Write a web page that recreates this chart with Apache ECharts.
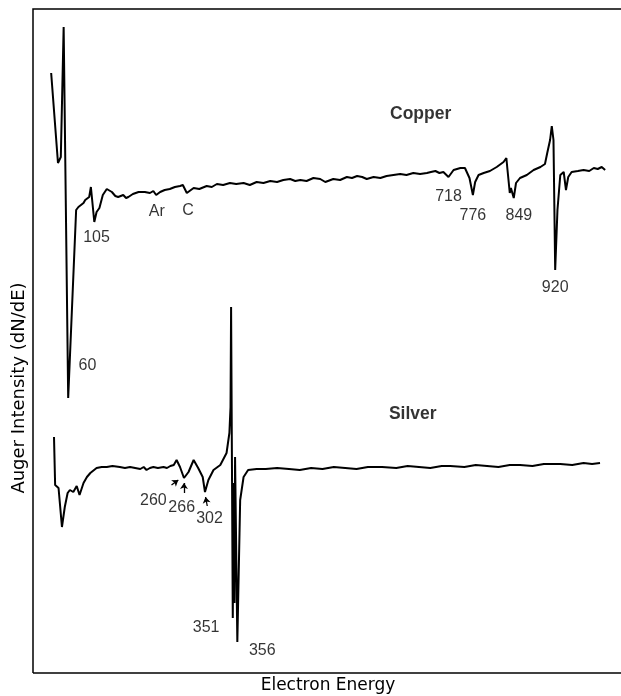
<!DOCTYPE html>
<html>
<head>
<meta charset="utf-8">
<script src="https://cdn.jsdelivr.net/npm/echarts@6/dist/echarts.min.js"></script>
<style>
html,body{margin:0;padding:0;background:#fff;overflow:hidden;}
#chart{width:621px;height:696px;}
</style>
</head>
<body>
<div id="chart"></div>
<script>
// Copper spectrum: electron energy (eV) and dN/dE (arbitrary units)
const copperEnergy = [32,44,49,54,62,76,80,89,92,99,102,108,112,117,123,130,139,145,150,159,164,168,176,186,197,206,212,217,224,232,241,250,259,264,271,283,293,306,315,324,335,347,358,371,382,394,406,418,430,441,453,462,471,482,494,506,515,529,541,553,562,571,580,588,600,612,623,635,647,658,670,682,694,701,709,716,723,732,741,753,761,764,769,775,779,785,794,805,817,829,834,836,840,842,847,851,858,870,882,894,902,906,911,914,917,920,924,929,935,939,943,949,960,970,980,988,995,1002,1008];
const copperSignal = [600,510,516,646,275,463,466,470,473,476,486,451,461,465,478,484,481,477,476,478,475,476,479,481,481,480,482,478,481,483,484,486,487,488,480,485,484,487,486,489,488,490,489,490,488,491,490,492,491,493,494,492,493,492,495,494,491,494,493,496,495,497,496,494,496,495,497,498,499,498,500,499,500,501,502,500,501,496,503,505,505,503,495,478,491,498,500,502,506,511,515,503,480,485,475,490,495,498,503,506,509,520,533,547,533,403,463,498,501,483,496,501,502,503,502,505,504,506,503];

// Silver spectrum
const silverEnergy = [37,39,45,51,56,61,65,71,77,82,89,95,101,112,121,130,140,153,162,171,180,189,195,200,206,212,220,230,236,242,248,253,259,266,274,283,291,299,303,309,318,330,341,346,348,349,352,353.5,355,356,360,365,371,379,394,410,430,451,470,490,510,530,550,570,590,615,640,660,680,700,720,735,760,780,800,820,840,858,880,900,929,950,970,985,999];
const silverSignal = [236,188,185,146,166,180,183,181,187,178,190,196,200,205,206,206,207,206,205,206,205,204,206,203,205,206,205,206,205,207,208,213,206,195,201,213,205,196,181,193,203,208,220,240,266,366,55,190,70,216,31,173,196,203,204,204,205,204,203,205,204,206,205,204,206,206,205,207,206,205,207,207,206,208,207,206,208,208,207,209,209,208,210,209,210];

// Annotation labels (text, energy, signal)
const noteText = ["Copper","Silver","60","105","Ar","C","718","776","849","920","260","266","302","351","356"];
const noteEnergy = [683,669,96,112,218,273,732,775,856,920,212,262,311,305,404];
const noteSignal = [559,259,307,435,461,462,476,457,457,385,172,165,154,45,22];
const noteBold = ["Copper","Silver"];

// Arrows for silver features [fromE, fromV, toE, toV]
const arrowFromE = [244,266,307];
const arrowFromV = [188,180,167];
const arrowToE = [256,266,304];
const arrowToV = [193,190,176];

const copperData = copperEnergy.map((e,i)=>[e, copperSignal[i]]);
const silverData = silverEnergy.map((e,i)=>[e, silverSignal[i]]);
const noteData = noteText.map((t,i)=>({
  value:[noteEnergy[i], noteSignal[i]],
  label:{formatter:t, fontWeight: noteBold.includes(t)?'bold':'normal', fontSize: noteBold.includes(t)?17.5:16}
}));
const arrowData = arrowFromE.map((e,i)=>[{coord:[e, arrowFromV[i]]},{coord:[arrowToE[i], arrowToV[i]]}]);

const FONT = '"Liberation Sans", Arial, sans-serif';
const chart = echarts.init(document.getElementById('chart'), null, {renderer:'canvas'});
chart.setOption({
  animation:false,
  backgroundColor:'#fff',
  grid:{left:33, top:9, right:-4, bottom:23, containLabel:false, outerBoundsMode:'none'},
  xAxis:[{
    type:'value', min:0, max:1043, position:'bottom',
    axisLine:{show:false}, axisTick:{show:false}, axisLabel:{show:false}, splitLine:{show:false}
  }],
  yAxis:{
    type:'value', min:0, max:664,
    axisLine:{show:false}, axisTick:{show:false}, axisLabel:{show:false}, splitLine:{show:false}
  },
  graphic:[{
    type:'polyline', silent:true,
    shape:{points:[[33,673],[33,9],[621,9]]},
    style:{stroke:'#000', lineWidth:1.5, fill:null}
  },{
    type:'line', silent:true,
    shape:{x1:33, y1:673, x2:621, y2:673},
    style:{stroke:'#000', lineWidth:1.5}
  },{
    type:'rect', silent:true, z:100,
    shape:{x:617, y:11, width:6, height:660},
    style:{fill:'#fff'}
  },{
    type:'text', x:10, y:388, rotation:Math.PI/2,
    style:{text:'Auger Intensity (dN/dE)', fill:'#000', font:'18px "DejaVu Sans", sans-serif', textAlign:'center', textVerticalAlign:'top'}
  },{
    type:'text', x:328, y:686,
    style:{text:'Electron Energy', fill:'#000', font:'17px "DejaVu Sans", sans-serif', textAlign:'center', textVerticalAlign:'middle'}
  }],
  series:[{
    name:'Copper', type:'line', data:copperData, showSymbol:false, symbol:'none',
    lineStyle:{color:'#000', width:2}, silent:true
  },{
    name:'Silver', type:'line', data:silverData, showSymbol:false, symbol:'none',
    lineStyle:{color:'#000', width:2}, silent:true,
    markLine:{
      silent:true, symbol:['none','arrow'], symbolSize:6,
      label:{show:false},
      lineStyle:{color:'#000', width:1.3, type:'solid'},
      data:arrowData
    }
  },{
    name:'notes', type:'scatter', data:noteData, symbolSize:0, silent:true,
    label:{show:true, position:'inside', color:'#000', fontFamily:FONT}
  }]
});
</script>
</body>
</html>
